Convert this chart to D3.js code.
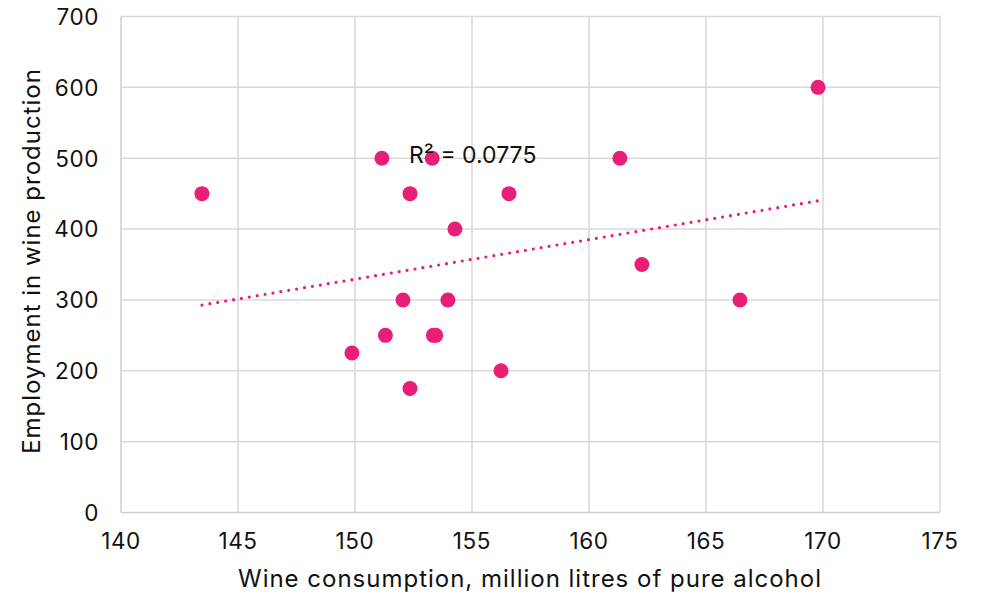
<!DOCTYPE html>
<html><head><meta charset="utf-8">
<script src="https://cdn.jsdelivr.net/npm/d3@7"></script>
<style>body{margin:0;background:#fff}svg{display:block}text{font-family:Inter,"Noto Sans",sans-serif;fill:#111}</style>
</head><body>
<svg id="c" width="985" height="596"></svg>
<script>
const consumption = [143.46,149.87,151.15,151.3,152.05,152.35,152.35,153.3,153.35,153.45,153.97,154.27,156.24,156.58,161.32,162.26,166.45,169.79];
const employment  = [450,225,500,250,300,450,175,500,250,250,300,400,200,450,500,350,300,600];
const xTicks = [140,145,150,155,160,165,170,175];
const yTicks = [0,100,200,300,400,500,600,700];
const r2Label = "R\u00B2 = 0.0775";

const svg = d3.select("#c");
const m = {l:121, r:940, t:16.5, b:512.5};
const x = d3.scaleLinear().domain([140,175]).range([m.l,m.r]);
const y = d3.scaleLinear().domain([0,700]).range([m.b,m.t]);
const pink = "#e91e76";

// grid
svg.append("g").selectAll("line").data(xTicks.slice(1)).join("line")
  .attr("x1",d=>x(d)).attr("x2",d=>x(d)).attr("y1",m.t).attr("y2",m.b)
  .attr("stroke","#d9d9d9").attr("stroke-width",1.5);
svg.append("g").selectAll("line").data(yTicks.slice(1)).join("line")
  .attr("x1",m.l).attr("x2",m.r).attr("y1",d=>y(d)).attr("y2",d=>y(d))
  .attr("stroke","#d9d9d9").attr("stroke-width",1.5);
svg.append("line").attr("x1",m.l).attr("x2",m.r).attr("y1",m.b).attr("y2",m.b).attr("stroke","#cfcfcf").attr("stroke-width",1.5);
svg.append("line").attr("x1",m.l).attr("x2",m.l).attr("y1",m.t).attr("y2",m.b).attr("stroke","#cfcfcf").attr("stroke-width",1.5);

// tick labels
svg.append("g").selectAll("text").data(xTicks).join("text")
  .attr("x",d=>x(d)).attr("y",549).attr("text-anchor","middle")
  .attr("font-size",22.5).attr("letter-spacing",0.6).text(d=>d);
svg.append("g").selectAll("text").data(yTicks).join("text")
  .attr("x",99).attr("y",d=>y(d)+8.3).attr("text-anchor","end")
  .attr("font-size",22.5).attr("letter-spacing",0.6).text(d=>d);

// axis titles
const xt = svg.append("text").attr("x",530).attr("y",586.5).attr("text-anchor","middle")
  .attr("font-size",24).text("Wine consumption, million litres of pure alcohol");
const nat = xt.node().getComputedTextLength();
const ls = Math.max(0,(583 - nat)/47);
xt.attr("letter-spacing",ls);
svg.append("text").attr("transform","translate(40,261) rotate(-90)").attr("text-anchor","middle")
  .attr("font-size",24).attr("letter-spacing",ls).text("Employment in wine production");

// trendline (least squares)
const mx = d3.mean(consumption), my = d3.mean(employment);
let sxy=0, sxx=0;
consumption.forEach((v,i)=>{sxy+=(v-mx)*(employment[i]-my); sxx+=(v-mx)*(v-mx);});
const slope = sxy/sxx, icpt = my - slope*mx;
const [x0,x1] = d3.extent(consumption);
svg.append("line").attr("x1",x(x0)).attr("y1",y(icpt+slope*x0))
  .attr("x2",x(x1)).attr("y2",y(icpt+slope*x1))
  .attr("stroke",pink).attr("stroke-width",3.2).attr("stroke-linecap","round")
  .attr("stroke-dasharray","0 8");

// points
svg.append("g").selectAll("circle").data(consumption).join("circle")
  .attr("cx",d=>x(d)).attr("cy",(d,i)=>y(employment[i])).attr("r",7.5).attr("fill",pink);

// R² label
svg.append("text").attr("x",409).attr("y",162.5).attr("font-size",23).text(r2Label);
</script>
</body></html>
